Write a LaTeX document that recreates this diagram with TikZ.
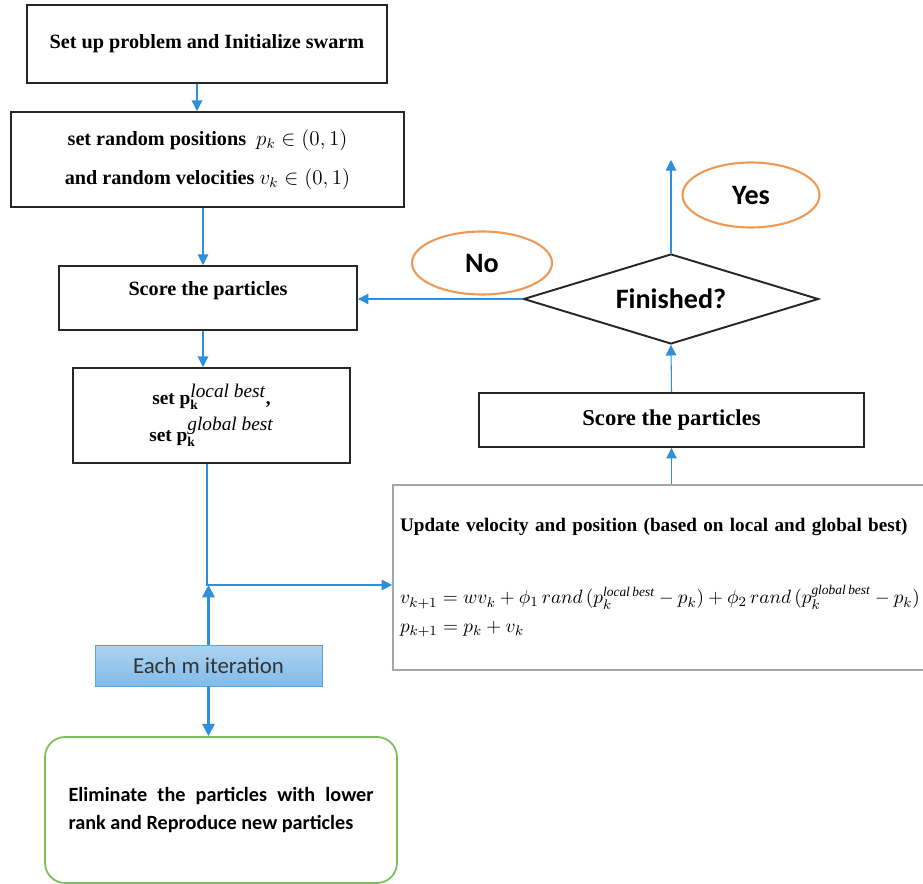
\documentclass[tikz,border=0pt]{standalone}
\usepackage{fontspec}
\setmainfont{Liberation Serif}
\newfontfamily\calib{Carlito}
\usepackage{tikz}
\usetikzlibrary{arrows.meta, positioning, shapes.geometric}
\definecolor{flowblue}{HTML}{2F8FDA}
\definecolor{ovalorange}{HTML}{EE9A55}
\definecolor{elimgreen}{HTML}{7CBF5A}
\definecolor{updgray}{HTML}{A3A7AD}

\begin{document}
\begin{tikzpicture}[x=0.02cm, y=-0.02cm,
  box/.style={draw=black!85, line width=1.1pt, inner sep=0pt, align=center, font=\bfseries\fontsize{11.5}{14}\selectfont},
  oval/.style={ellipse, draw=ovalorange, line width=1.2pt, inner sep=0pt, font=\calib\fontsize{16}{18}\selectfont\bfseries},
  flow/.style={-{Triangle[length=6pt, width=6pt]}, flowblue, line width=0.6pt},
  bigflow/.style={-{Triangle[length=7pt, width=7pt]}, flowblue, line width=1.3pt},
]
  \useasboundingbox (0,0) rectangle (923,884);
  % left column
  \node[box, minimum width=7.2cm, minimum height=1.56cm] (init) at (207,44) {Set up problem and Initialize swarm};
  \node[box, minimum width=7.86cm, minimum height=1.9cm, font=\bfseries\fontsize{11.5}{22}\selectfont] (rand) at (207.5,159.5)
    {set random positions \ $p_k\in(0,1)$\\ and random velocities $v_k\in(0,1)$};
  \node[box, minimum width=5.96cm, minimum height=1.28cm,
    label={[anchor=north, font=\bfseries\fontsize{11.5}{14}\selectfont, yshift=-0.2cm]north:Score the particles}] (score) at (208,298) {};
  \node[box, minimum width=5.54cm, minimum height=1.9cm, font=\bfseries\fontsize{11}{21}\selectfont] (setp) at (211.5,415.5)
    {set $\mathbf{p}_{\mathbf{k}}^{\textnormal{\itshape local best}}$,\\ set $\mathbf{p}_{\mathbf{k}}^{\textnormal{\itshape global best}}$};
  \node[draw=flowblue!80, top color=flowblue!40, bottom color=flowblue!60, minimum width=4.54cm, minimum height=0.82cm,
    font=\calib\fontsize{13}{15}\selectfont, text=black!80] (each) at (208.5,665.5) {Each m iteration};
  \node[draw=elimgreen, line width=1pt, rounded corners=0.4cm, minimum width=7.04cm, minimum height=2.92cm,
    text width=6.1cm, align=justify, font=\calib\fontsize{11.5}{16}\selectfont\bfseries] (elim) at (221,810)
    {Eliminate the particles with lower\linebreak rank and Reproduce new particles};
  % right column
  \node[draw=updgray, line width=1pt, minimum width=10.6cm, minimum height=3.7cm, text width=10.4cm,
    align=left, inner sep=0.14cm, font=\fontsize{10.9}{13}\selectfont] (upd) at (660,577.5)
    {\textbf{Update velocity and position (based on local and global best)}\\[0.95cm]
     $v_{k+1}=wv_k+\phi_1\,rand\,(p_k^{\mathit{local\,best}}-p_k)+\phi_2\,rand\,(p_k^{\mathit{global\,best}}-p_k)$\\[3pt]
     $p_{k+1}=p_k+v_k$\\[0.8cm]};
  \node[box, minimum width=7.7cm, minimum height=1.08cm, font=\bfseries\fontsize{12.9}{15}\selectfont] (scr2) at (671.5,420) {Score the particles};
  \node[diamond, draw=black!85, line width=1.1pt, aspect=3.3, inner sep=0pt, minimum width=5.9cm, minimum height=1.8cm,
    font=\calib\fontsize{16}{18}\selectfont\bfseries] (fin) at (671,299) {Finished?};
  \node[oval, minimum width=2.8cm, minimum height=1.26cm] (no) at (482,263) {No};
  \node[oval, minimum width=2.74cm, minimum height=1.3cm] (yes) at (751,195) {Yes};
  \coordinate (junc) at (207,585);
  \coordinate (done) at (671,160);
  % connectors
  \draw[flow] ([xshift=-0.2cm]init.south) -- ([xshift=-0.2cm]init.south |- rand.north);
  \draw[flow] ([xshift=-0.1cm]score.north |- rand.south) -- ([xshift=-0.1cm]score.north);
  \draw[flow] ([xshift=-0.1cm]score.south) -- ([xshift=-0.1cm]score.south |- setp.north);
  \draw[flow] (setp.south -| junc) -- (junc) -- (junc -| upd.west);
  \draw[bigflow] (each.north) -- (each.north |- junc);
  \draw[bigflow] (each.south) -- (each.south |- elim.north);
  \draw[flow] (scr2.south |- upd.north) -- (scr2.south);
  \draw[flow] (scr2.north) -- (fin.south);
  \draw[flow] (fin.north) -- (done);
  \draw[flow] (fin.west) -- (fin.west -| score.east);
\end{tikzpicture}
\end{document}
